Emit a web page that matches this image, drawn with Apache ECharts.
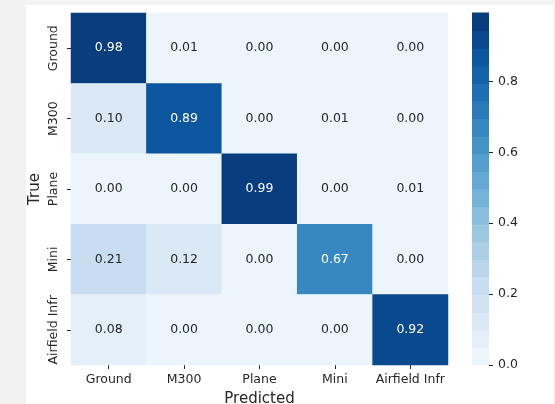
<!DOCTYPE html>
<html>
<head>
<meta charset="utf-8">
<script src="https://cdn.jsdelivr.net/npm/echarts@6/dist/echarts.min.js"></script>
<style>
  html, body { margin: 0; padding: 0; background: #f2f2f2; }
  #panel { position: absolute; left: 26px; top: 5px; width: 527px; height: 399px; background: #ffffff; }
  #chart { position: absolute; left: 0; top: 0; width: 555px; height: 404px; }
</style>
</head>
<body>
<div id="panel"></div>
<div id="chart"></div>
<script>
// Confusion matrix: rows = true class, columns = predicted class (row-normalised)
const classes = ['Ground', 'M300', 'Plane', 'Mini', 'Airfield Infr'];
const rowGround   = [0.98, 0.01, 0.00, 0.00, 0.00];
const rowM300     = [0.10, 0.89, 0.00, 0.01, 0.00];
const rowPlane    = [0.00, 0.00, 0.99, 0.00, 0.01];
const rowMini     = [0.21, 0.12, 0.00, 0.67, 0.00];
const rowAirfield = [0.08, 0.00, 0.00, 0.00, 0.92];
const colorbarTicks = [0, 0.2, 0.4, 0.6, 0.8];

const rows = [rowGround, rowM300, rowPlane, rowMini, rowAirfield];
const VMAX = 0.993;      // top of the colour scale
const NBANDS = 20;       // discrete colour levels

// matplotlib "Blues" anchors
const blues = [
  [247,251,255],[222,235,247],[198,219,239],[158,202,225],[107,174,214],
  [66,146,198],[33,113,181],[8,81,156],[8,48,107]
];
function bluesAt(t) {
  const x = t * (blues.length - 1);
  const i = Math.min(Math.floor(x), blues.length - 2);
  const f = x - i;
  const c = blues[i].map((v, k) => Math.round(v + (blues[i + 1][k] - v) * f));
  return 'rgb(' + c.join(',') + ')';
}
const step = VMAX / NBANDS;
const pieces = [];
for (let i = 0; i < NBANDS; i++) {
  const p = { gte: i * step, color: bluesAt((i + 1) / (NBANDS + 1)) };
  if (i < NBANDS - 1) p.lt = (i + 1) * step; else p.lte = 10;
  pieces.push(p);
}

const cells = [];
rows.forEach((row, r) => row.forEach((v, c) => {
  cells.push({ value: [c, r, v], label: { color: v > 0.5 ? '#ffffff' : '#262626' } });
}));

// colour bar: one band per level -> [column, band low, band middle, band high]
const bandData = [];
for (let i = 0; i < NBANDS; i++) {
  bandData.push([0, i * step, (i + 0.5) * step, (i + 1) * step]);
}

const FONT = 'DejaVu Sans';
const TXT = '#262626';

const chart = echarts.init(document.getElementById('chart'), null, { renderer: 'canvas' });
chart.setOption({
  animation: false,
  textStyle: { fontFamily: FONT },
  grid: [
    { left: 71, top: 13, width: 377, height: 352, outerBoundsMode: 'none', containLabel: false },
    { left: 472, top: 13, width: 17, height: 352, outerBoundsMode: 'none', containLabel: false }
  ],
  xAxis: [
    {
      type: 'category', gridIndex: 0, data: classes,
      name: 'Predicted', nameLocation: 'middle', nameGap: 27, nameMoveOverlap: false,
      nameTextStyle: { fontFamily: FONT, fontSize: 15, color: TXT },
      axisLine: { show: false },
      axisTick: { show: true, alignWithLabel: true, length: 4, lineStyle: { color: TXT } },
      axisLabel: { fontFamily: FONT, fontSize: 12.5, color: TXT, margin: 8, interval: 0 },
      splitLine: { show: false }
    },
    {
      type: 'category', gridIndex: 1, data: [''], show: false
    }
  ],
  yAxis: [
    {
      type: 'category', gridIndex: 0, data: classes, inverse: true,
      name: 'True', nameLocation: 'middle', nameGap: 28, nameRotate: 90, nameMoveOverlap: false,
      nameTextStyle: { fontFamily: FONT, fontSize: 15, color: TXT },
      axisLine: { show: false },
      axisTick: { show: true, alignWithLabel: true, length: 4, lineStyle: { color: TXT } },
      axisLabel: { fontFamily: FONT, fontSize: 12.5, color: TXT, rotate: 90, margin: 11, interval: 0 },
      splitLine: { show: false }
    },
    {
      type: 'value', gridIndex: 1, position: 'right', min: 0, max: VMAX,
      axisLine: { show: false },
      axisTick: { show: true, length: 4, lineStyle: { color: TXT }, customValues: colorbarTicks },
      axisLabel: {
        fontFamily: FONT, fontSize: 12.5, color: TXT, margin: 9,
        customValues: colorbarTicks,
        formatter: v => v.toFixed(1)
      },
      splitLine: { show: false }
    }
  ],
  visualMap: {
    type: 'piecewise', show: false, dimension: 2, seriesIndex: [0, 1], pieces: pieces
  },
  series: [
    {
      type: 'heatmap', xAxisIndex: 0, yAxisIndex: 0, data: cells,
      label: {
        show: true, fontFamily: FONT, fontSize: 12.5,
        formatter: p => p.value[2].toFixed(2)
      },
      emphasis: { disabled: true }
    },
    {
      type: 'custom', xAxisIndex: 1, yAxisIndex: 1, data: bandData,
      encode: { x: 0, y: [1, 3] },
      renderItem: function (params, api) {
        const lo = api.coord([api.value(0), api.value(1)]);
        const hi = api.coord([api.value(0), api.value(3)]);
        const w = api.size([1, 0])[0];
        return {
          type: 'rect',
          shape: { x: lo[0] - w / 2, y: hi[1] - 0.5, width: w, height: lo[1] - hi[1] + 1 },
          style: { fill: api.visual('color') }
        };
      },
      emphasis: { disabled: true }
    }
  ]
});
</script>
</body>
</html>
